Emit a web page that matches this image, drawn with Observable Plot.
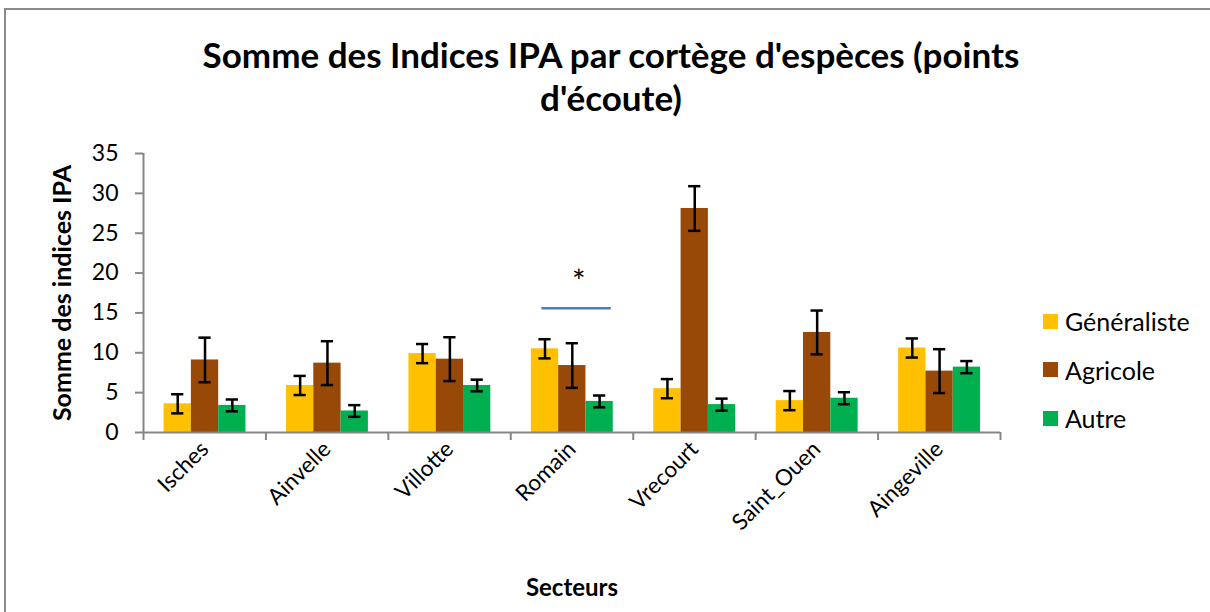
<!DOCTYPE html>
<html>
<head>
<meta charset="utf-8">
<script src="https://cdn.jsdelivr.net/npm/d3@7"></script>
<script src="https://cdn.jsdelivr.net/npm/@observablehq/plot@0.6"></script>
<style>
  html, body { margin: 0; padding: 0; background: #fff; }
  #wrap { position: relative; width: 1210px; height: 612px; overflow: hidden; font-family: Lato, "Open Sans", sans-serif; }
  #border { position: absolute; left: 4px; top: 8px; right: -20px; bottom: -20px; border: 2.5px solid #8a8a8a; }
  #title { position: absolute; top: 33px; left: 0; width: 1222px; text-align: center; font-weight: bold; font-size: 35px; line-height: 43px; color: #000; }
  #chart { position: absolute; left: 0; top: 110px; }
  #legend { position: absolute; left: 1043px; top: 297px; font-size: 25px; color: #000; }
  .row { display: flex; align-items: center; height: 48.5px; }
  .sw { width: 15px; height: 15px; margin-right: 7px; }
</style>
</head>
<body>
<div id="wrap">
  <div id="border"></div>
  <div id="title">Somme des Indices IPA par cortège d'espèces (points<br>d'écoute)</div>
  <div id="chart"></div>
  <div id="legend"></div>
</div>
<script>
// ---- data ----
const categories = ["Isches", "Ainvelle", "Villotte", "Romain", "Vrecourt", "Saint_Ouen", "Aingeville"];
const seriesNames = ["Généraliste", "Agricole", "Autre"];
const seriesColors = ["#FFC000", "#984807", "#00B050"];
const generaliste = [3.6, 5.9, 9.9, 10.5, 5.5, 4.0, 10.6];
const generalisteErr = [1.2, 1.2, 1.2, 1.2, 1.2, 1.2, 1.2];
const agricole = [9.1, 8.7, 9.2, 8.4, 28.1, 12.55, 7.7];
const agricoleErr = [2.8, 2.75, 2.75, 2.8, 2.8, 2.75, 2.75];
const autre = [3.4, 2.7, 5.9, 3.9, 3.5, 4.3, 8.2];
const autreErr = [0.74, 0.73, 0.73, 0.74, 0.75, 0.75, 0.76];
const yTicks = [0, 5, 10, 15, 20, 25, 30, 35];
const sigCategory = "Romain";
const sigValue = 15.6;
const sigStarValue = 18.8;

// ---- build table ----
const values = [generaliste, agricole, autre];
const errors = [generalisteErr, agricoleErr, autreErr];
const groupStart = 0.168, barW = 0.223, capHalf = 0.05;
const rows = [];
categories.forEach((c, i) => {
  seriesNames.forEach((s, k) => {
    const x1 = i + groupStart + k * barW;
    rows.push({cat: c, series: s, value: values[k][i], err: errors[k][i],
      x1, x2: x1 + barW, xc: x1 + barW / 2});
  });
});
const si = categories.indexOf(sigCategory);
const sig = [{x1: si + 0.254, x2: si + 0.821, y: sigValue, xs: si + 0.556, ys: sigStarValue}];

const axisGray = "#868686";
const chart = Plot.plot({
  width: 1210,
  height: 502,
  marginLeft: 143,
  marginRight: 210,
  marginTop: 43,
  marginBottom: 180,
  style: {fontFamily: "Lato, 'Open Sans', sans-serif", color: "#000", background: "transparent"},
  x: {domain: [0, categories.length], axis: null},
  y: {domain: [0, 35], axis: null},
  color: {domain: seriesNames, range: seriesColors},
  marks: [
    Plot.rectY(rows, {x1: "x1", x2: "x2", y: "value", fill: "series"}),
    Plot.ruleX(rows, {x: "xc", y1: d => d.value - d.err, y2: d => d.value + d.err, stroke: "#000", strokeWidth: 2.5}),
    Plot.ruleY(rows, {y: d => d.value + d.err, x1: d => d.xc - capHalf, x2: d => d.xc + capHalf, stroke: "#000", strokeWidth: 2.5}),
    Plot.ruleY(rows, {y: d => d.value - d.err, x1: d => d.xc - capHalf, x2: d => d.xc + capHalf, stroke: "#000", strokeWidth: 2.5}),
    Plot.ruleY([0], {stroke: axisGray, strokeWidth: 2}),
    Plot.ruleX([0], {stroke: axisGray, strokeWidth: 2}),
    Plot.axisY({ticks: yTicks, tickSize: 8, tickPadding: 17, stroke: axisGray, strokeWidth: 2, label: null, color: "#000", fontSize: 23}),
    Plot.axisX({ticks: d3.range(categories.length + 1), tickSize: 8, tickFormat: () => "", stroke: axisGray, strokeWidth: 2, label: null}),
    Plot.axisX({ticks: categories.map((c, i) => i + 0.5), tickSize: 0, tickPadding: 13, tickRotate: -45,
      tickFormat: v => categories[Math.floor(v)], label: null, fontSize: 22.5, color: "#000"}),
    Plot.text(["Secteurs"], {frameAnchor: "bottom", dy: 163, fontSize: 24, fontWeight: "bold", fill: "#000"}),
    Plot.text(["Somme des indices IPA"], {frameAnchor: "left", rotate: -90, textAnchor: "middle", dx: -81, fontSize: 25, fontWeight: "bold", fill: "#000"}),
    Plot.ruleY(sig, {y: "y", x1: "x1", x2: "x2", stroke: "#4A7EBB", strokeWidth: 2.5}),
    Plot.text(sig, {x: "xs", y: "ys", text: () => "*", fontSize: 32, fill: "#000"})
  ]
});
document.getElementById("chart").appendChild(chart);

const legend = document.getElementById("legend");
seriesNames.forEach((s, k) => {
  const r = document.createElement("div");
  r.className = "row";
  r.innerHTML = `<div class="sw" style="background:${seriesColors[k]}"></div><span>${s}</span>`;
  legend.appendChild(r);
});
</script>
</body>
</html>
